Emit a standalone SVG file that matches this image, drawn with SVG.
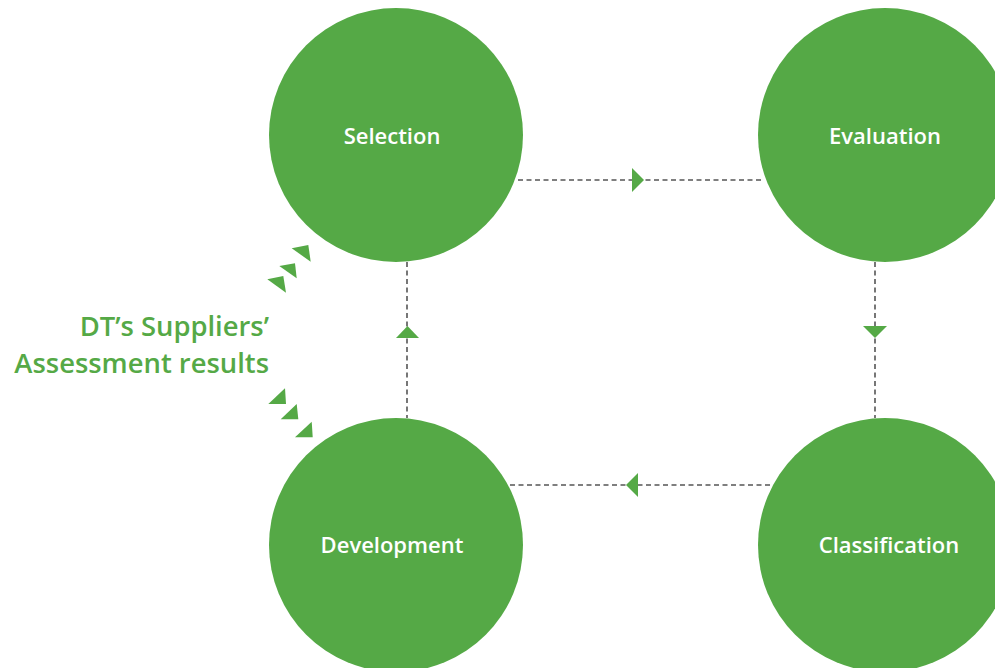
<svg xmlns="http://www.w3.org/2000/svg" width="995" height="668" viewBox="0 0 995 668">
<style>
.node{fill:#55a946}
.lbl{font-family:"Open Sans","Noto Sans",sans-serif;font-weight:600;font-size:22px;fill:#ffffff;text-anchor:middle;dominant-baseline:central}
.cap{font-family:"Open Sans","Noto Sans",sans-serif;font-weight:600;font-size:27.4px;fill:#55a946;text-anchor:end}
.dash{stroke:#555555;stroke-width:1.6;stroke-dasharray:5 3.5;fill:none}
.head{fill:#55a946}
</style>
<rect width="995" height="668" fill="#ffffff"/>
<g id="connectors">
<line class="dash" x1="518" y1="180" x2="762" y2="180"/>
<polygon class="head" points="632,168 644,180 632,192"/>
<line class="dash" x1="875" y1="262" x2="875" y2="418"/>
<polygon class="head" points="863,326 887,326 875,338"/>
<line class="dash" x1="407" y1="262" x2="407" y2="418"/>
<polygon class="head" points="396,338 419,338 407.5,326"/>
<line class="dash" x1="510" y1="485" x2="772" y2="485"/>
<polygon class="head" points="638,473 626,485 638,497"/>
</g>
<g id="inputs">
<polygon class="head" points="291.7,248.3 308.3,245 310.7,261.7"/>
<polygon class="head" points="279.3,266 295,263.3 296.7,278.3"/>
<polygon class="head" points="267.3,279.3 283.3,276 286,292.7"/>
<polygon class="head" points="268.3,404 285,388.3 286,404"/>
<polygon class="head" points="280.7,419.3 296.7,404 298.3,419.3"/>
<polygon class="head" points="295,437.3 311.7,421.7 312.7,437.3"/>
<text class="cap" x="269" y="336">DT’s Suppliers’</text>
<text class="cap" x="269" y="373">Assessment results</text>
</g>
<g id="selection">
<circle class="node" cx="396" cy="135" r="127"/>
<text class="lbl" x="392" y="135">Selection</text>
</g>
<g id="evaluation">
<circle class="node" cx="885" cy="135" r="127"/>
<text class="lbl" x="885" y="135">Evaluation</text>
</g>
<g id="development">
<circle class="node" cx="396" cy="545" r="127"/>
<text class="lbl" x="392" y="544">Development</text>
</g>
<g id="classification">
<circle class="node" cx="885" cy="545" r="127"/>
<text class="lbl" x="889" y="544">Classification</text>
</g>
</svg>
